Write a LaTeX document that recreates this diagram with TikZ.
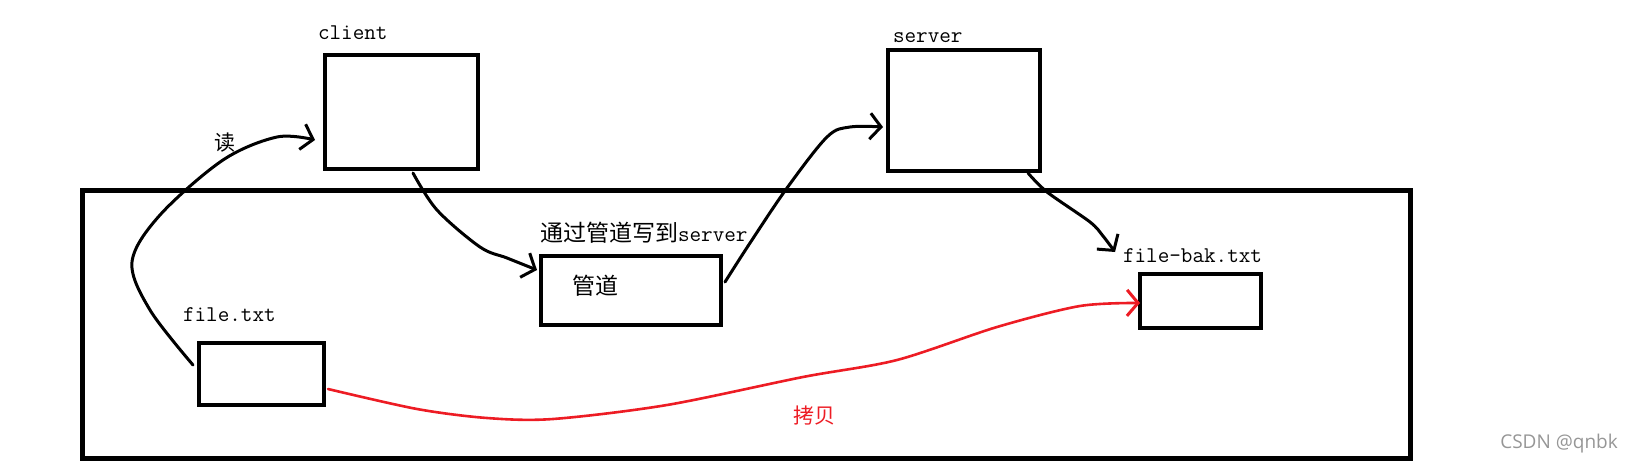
\documentclass[tikz,border=0pt]{standalone}
\usepackage{fontspec}
\newfontfamily\cjk{Noto Sans CJK SC}
\newfontfamily\wmfont{Open Sans}
\usetikzlibrary{arrows.meta}
\definecolor{paintred}{RGB}{237,28,36}
\definecolor{wmgray}{RGB}{150,150,150}
\begin{document}
\begin{tikzpicture}[x=1pt,y=-1pt,
  box/.style={draw, line width=4pt, inner sep=0pt, outer sep=2pt},
  lbl/.style={inner sep=0pt, outer sep=0pt, anchor=base west, font=\fontsize{22.5}{26}\selectfont\ttfamily},
  cjklbl/.style={inner sep=0pt, outer sep=0pt, anchor=center, font=\fontsize{21}{24}\selectfont\cjk},
  conn/.style={line width=3pt, line cap=round, line join=round, -{Straight Barb[length=11pt,width=26pt,line width=3pt]}},
]
\useasboundingbox (0,0) rectangle (1634,463);

% outer frame
\node[box, line width=5pt, outer sep=2.5pt, minimum width=1328.5pt, minimum height=268.5pt] (frame) at (746.25,324.25) {};

% boxes
\node[box, minimum width=153pt, minimum height=114pt] (client) at (401.5,112) {};
\node[box, minimum width=152pt, minimum height=121pt] (server) at (964,110.5) {};
\node[box, minimum width=180pt, minimum height=69pt] (pipe) at (631,290.5) {};
\node[box, minimum width=121pt, minimum height=54pt] (filebak) at (1200.5,301) {};
\node[box, minimum width=125pt, minimum height=62pt] (file) at (261.5,374) {};

% labels
\node[lbl] (lclient) at (318,39) {client};
\node[lbl] (lserver) at (893,42) {server};
\node[lbl] (lpipe) at (540,241) {{\cjk\fontsize{23}{26}\selectfont 通过管道写到}server};
\node[lbl, font=\fontsize{23}{26}\selectfont\cjk] (tpipe) at (572,294) {管道};
\node[lbl] (lfilebak) at (1123,262) {file-bak.txt};
\node[lbl] (lfile) at (183,321) {file.txt};
\node[cjklbl] (lread) at (225,143) {读};
\node[cjklbl, text=paintred] (lcopy) at (814,416) {拷贝};
\node[inner sep=0pt, anchor=base east, font=\fontsize{19}{22}\selectfont\wmfont, text=wmgray] (wm) at (1618,448) {CSDN @qnbk};

% connectors
\draw[conn] plot[smooth, tension=0.55] coordinates {([shift={(-4,-9)}]file.west) (150,310) (132,262) (160,215) (223,160) (277,137) ([shift={(-8,28)}]client.west)};
\draw[conn] plot[smooth, tension=0.55] coordinates {([shift={(11.5,2)}]client.south) (437,210) (480,247) (507,258) ([shift={(-2,-20.5)}]pipe.west)};
\draw[conn] plot[smooth, tension=0.55] coordinates {([shift={(2,-8.5)}]pipe.east) (750,243) (787,188) (827,137) (850,127) ([shift={(-3,16.5)}]server.west)};
\draw[conn] plot[smooth, tension=0.5] coordinates {([shift={(-14,0)}]server.south east) (1047,192) (1090,222) (1103,236) ([shift={(-23,-20)}]filebak.north west)};
\draw[conn, line width=2.6pt, paintred] plot[smooth, tension=0.5] coordinates {([shift={(2,15)}]file.east) (417,409) (487,418) (553,419) (667,405) (803,377) (897,360) (997,327) (1080,306) ([shift={(2,2)}]filebak.west)};
\end{tikzpicture}
\end{document}
